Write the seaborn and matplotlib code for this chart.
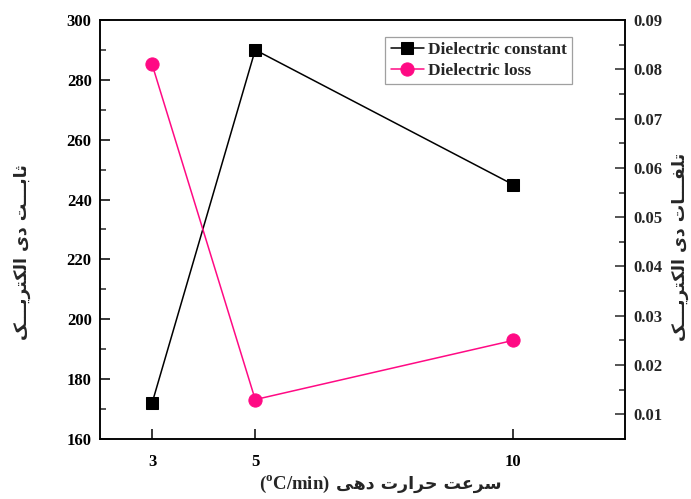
import matplotlib
matplotlib.use("Agg")
import matplotlib.pyplot as plt
from matplotlib.ticker import MultipleLocator
from matplotlib.font_manager import FontProperties
import seaborn as sns
import pandas as pd

# Heating rate (°C/min) and measured dielectric properties
heating_rate = [3, 5, 10]
dielectric_constant = [172, 290, 245]
dielectric_loss = [0.081, 0.013, 0.025]
x_ticks = [3, 5, 10]
loss_ticks = [0.01, 0.02, 0.03, 0.04, 0.05, 0.06, 0.07, 0.08, 0.09]

series_names = ["Dielectric constant", "Dielectric loss"]
x_label_fa = "سرعت حرارت دهی"
x_label_unit = r"($^{\mathrm{o}}$C/min)"
y_label_left_fa = "ثابـــت دی الکتریـــک"
y_label_right_fa = "تلفـــات دی الکتریـــک"

# --- minimal Arabic-script shaping (presentation forms, visual order) ---
TATWEEL = "\u0640"
FORMS = {  # isolated, final, initial, medial
    "ا": ("\uFE8D", "\uFE8E", None, None),
    "ب": ("\uFE8F", "\uFE90", "\uFE91", "\uFE92"),
    "ت": ("\uFE95", "\uFE96", "\uFE97", "\uFE98"),
    "ث": ("\uFE99", "\uFE9A", "\uFE9B", "\uFE9C"),
    "ح": ("\uFEA1", "\uFEA2", "\uFEA3", "\uFEA4"),
    "د": ("\uFEA9", "\uFEAA", None, None),
    "ر": ("\uFEAD", "\uFEAE", None, None),
    "س": ("\uFEB1", "\uFEB2", "\uFEB3", "\uFEB4"),
    "ع": ("\uFEC9", "\uFECA", "\uFECB", "\uFECC"),
    "ف": ("\uFED1", "\uFED2", "\uFED3", "\uFED4"),
    "ل": ("\uFEDD", "\uFEDE", "\uFEDF", "\uFEE0"),
    "ه": ("\uFEE9", "\uFEEA", "\uFEEB", "\uFEEC"),
    "ی": ("\uFBFC", "\uFBFD", "\uFBFE", "\uFBFF"),
    "ک": ("\uFB8E", "\uFB8F", "\uFB90", "\uFB91"),
}


def _joins_next(ch):
    if ch == TATWEEL:
        return True
    return ch in FORMS and FORMS[ch][2] is not None


def _joins_prev(ch):
    return ch == TATWEEL or ch in FORMS


def shape_rtl(text):
    out = []
    for i, ch in enumerate(text):
        if ch not in FORMS:
            out.append(ch)
            continue
        prev = text[i - 1] if i > 0 else None
        nxt = text[i + 1] if i + 1 < len(text) else None
        jp = prev is not None and _joins_next(prev)
        jn = nxt is not None and _joins_prev(nxt) and FORMS[ch][2] is not None
        iso, fin, ini, med = FORMS[ch]
        if jp and jn:
            out.append(med)
        elif jp:
            out.append(fin)
        elif jn:
            out.append(ini)
        else:
            out.append(iso)
    return "".join(out)[::-1]


# --- figure ---
sns.set_theme(style="white")
plt.rcParams["font.family"] = ["Liberation Serif", "DejaVu Sans"]
plt.rcParams["mathtext.fontset"] = "custom"
plt.rcParams["mathtext.rm"] = "Liberation Serif:bold"

fig = plt.figure(figsize=(6.91, 4.99), dpi=100)
ax = fig.add_axes([0.1447, 0.1202, 0.7598, 0.8398])
ax2 = ax.twinx()

df = pd.DataFrame({"rate": heating_rate, "const": dielectric_constant, "loss": dielectric_loss})

pink = "#ff0a84"
sns.lineplot(data=df, x="rate", y="const", ax=ax, color="black", marker="s",
             markersize=8.5, markeredgecolor="black", linewidth=1.1, label=series_names[0],
             legend=False)
sns.lineplot(data=df, x="rate", y="loss", ax=ax2, color=pink, marker="o",
             markersize=9.5, markeredgecolor=pink, linewidth=1.1, label=series_names[1],
             legend=False)

ax.set_xlim(1.99, 12.17)
ax.set_ylim(160, 300)
ax2.set_ylim(0.005, 0.09)
ax.set_xticks(x_ticks)
ax.set_xticklabels([str(t) for t in x_ticks])
ax.yaxis.set_major_locator(MultipleLocator(20))
ax.yaxis.set_minor_locator(MultipleLocator(10))
ax2.set_yticks(loss_ticks)
ax2.yaxis.set_minor_locator(MultipleLocator(0.005))
ax2.set_yticklabels([f"{t:.2f}" for t in loss_ticks])

for a in (ax, ax2):
    for s in a.spines.values():
        s.set_linewidth(1.1)
        s.set_color("black")
    a.grid(False)

tick_font = FontProperties(family="Liberation Serif", weight="bold", size=12)
ax.tick_params(axis="y", which="major", direction="in", length=7, width=1.1,
               colors="black", pad=6, left=True)
ax.tick_params(axis="x", which="major", direction="in", length=7, width=1.1,
               colors="black", pad=11, bottom=True)
ax.tick_params(axis="y", which="minor", direction="in", length=4, width=1.1, left=True)
ax.tick_params(axis="x", which="minor", bottom=False)
ax2.tick_params(axis="y", which="major", direction="in", length=7, width=1.1, pad=6, right=True)
ax2.tick_params(axis="y", which="minor", direction="in", length=4, width=1.1, right=True)
for lab in ax.get_xticklabels() + ax.get_yticklabels() + ax2.get_yticklabels():
    lab.set_fontproperties(tick_font)

ax.set_xlabel("")
ax.set_ylabel("")
ax2.set_ylabel("")

fa_font = ["DejaVu Sans"]
fig.text(0.032, 0.495, shape_rtl(y_label_left_fa), rotation=90, ha="center", va="center",
         family=fa_font, fontsize=12.5, fontweight="bold")
fig.text(0.984, 0.505, shape_rtl(y_label_right_fa), rotation=90, ha="center", va="center",
         family=fa_font, fontsize=12.5, fontweight="bold")
# x-axis title: Latin unit on the left, Persian words to its right
fig.text(0.477, 0.03, x_label_unit, ha="right", va="center",
         family="Liberation Serif", fontsize=13.5, fontweight="bold")
fig.text(0.486, 0.03, shape_rtl(x_label_fa), ha="left", va="center",
         family=fa_font, fontsize=12.5, fontweight="bold")

h1, l1 = ax.get_legend_handles_labels()
h2, l2 = ax2.get_legend_handles_labels()
leg = ax.legend(h1 + h2, l1 + l2, loc="upper right", bbox_to_anchor=(0.899, 0.96),
                frameon=True, fancybox=False, edgecolor="#888888", handlelength=1.9,
                handletextpad=0.25, borderpad=0.3, labelspacing=0.25, borderaxespad=0,
                prop=dict(family="Liberation Serif", weight="bold", size=12.5))
leg.get_frame().set_linewidth(0.9)

fig.savefig("out.png", dpi=100, facecolor="white")
